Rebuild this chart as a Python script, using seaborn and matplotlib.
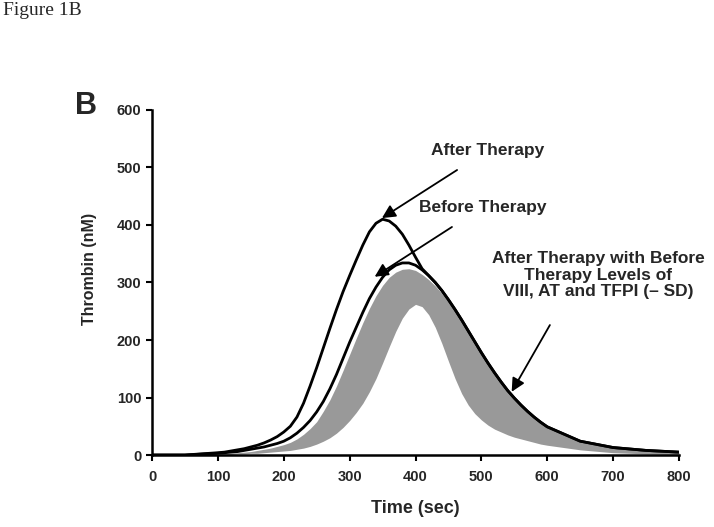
import matplotlib
matplotlib.use("Agg")
import matplotlib.pyplot as plt
import seaborn as sns
import pandas as pd

# time points (sec)
time_sec = [0, 50,
            100, 110, 120, 130, 140, 150, 160, 170, 180, 190,
            200, 210, 220, 230, 240, 250, 260, 270, 280, 290,
            300, 310, 320, 330, 340, 350, 360, 370, 380, 390,
            400, 410, 420, 430, 440, 450, 460, 470, 480, 490,
            500, 510, 520, 530, 540, 550, 560, 570, 580, 590,
            600, 650, 700, 750, 800]

# thrombin (nM)
after_therapy = [0, 0,
                 4, 5, 7, 9, 11, 14, 17, 21, 26, 32,
                 40, 50, 66, 90, 120, 152, 186, 220, 253, 284,
                 312, 339, 365, 388, 403, 410, 407, 398, 384, 365,
                 344, 324, 312, 300, 286, 270, 253, 235, 216, 197,
                 178, 160, 143, 127, 112, 99, 87, 76, 66, 57,
                 49, 24, 13, 8, 5]
before_therapy = [0, 0,
                  3, 4, 5, 6, 8, 10, 12, 14, 17, 20,
                  24, 30, 38, 48, 60, 75, 93, 115, 140, 168,
                  196, 222, 248, 272, 292, 309, 322, 330, 334, 334,
                  330, 322, 312, 300, 286, 270, 253, 235, 216, 197,
                  178, 160, 143, 127, 112, 99, 87, 76, 66, 57,
                  49, 24, 13, 8, 5]
# grey band: after therapy with before-therapy levels of VIII, AT and TFPI
band_upper = [0, 0,
              2, 3, 3, 4, 5, 6, 8, 10, 12, 15,
              18, 22, 28, 36, 46, 58, 76, 96, 120, 147,
              175, 203, 230, 255, 277, 295, 309, 318, 323, 324,
              321, 314, 305, 294, 281, 266, 250, 232, 214, 195,
              176, 158, 141, 125, 110, 97, 85, 74, 64, 55,
              47, 22, 12, 7, 4]
band_lower = [0, 0,
              0, 1, 1, 2, 2, 3, 3, 4, 5, 6,
              7, 8, 10, 12, 15, 19, 24, 30, 38, 48,
              60, 74, 90, 110, 133, 160, 188, 215, 238, 254,
              262, 258, 244, 222, 194, 163, 133, 107, 87, 72,
              61, 52, 45, 40, 35, 31, 28, 25, 22, 19,
              17, 9, 4, 2, 1]

x_ticks = [0, 100, 200, 300, 400, 500, 600, 700, 800]
y_ticks = [0, 100, 200, 300, 400, 500, 600]

df = pd.DataFrame({
    'time': time_sec,
    'after': after_therapy,
    'before': before_therapy,
    'upper': band_upper,
    'lower': band_lower,
})

sns.set_style('ticks')
plt.rcParams['font.family'] = ['Liberation Sans', 'DejaVu Sans']

fig = plt.figure(figsize=(7.14, 5.27), dpi=100)
ax = fig.add_axes([0.2129, 0.1366, 0.7381, 0.6547])

ax.fill_between(df['time'], df['lower'], df['upper'], color='#999999', lw=0, zorder=1)
sns.lineplot(x='time', y='before', data=df, color='black', lw=2.0, ax=ax, zorder=3)
sns.lineplot(x='time', y='after', data=df, color='black', lw=2.0, ax=ax, zorder=3)

ax.set_xlim(0, 800)
ax.set_ylim(0, 600)
ax.set_xticks(x_ticks)
ax.set_yticks(y_ticks)
for lbl in ax.get_xticklabels() + ax.get_yticklabels():
    lbl.set_fontweight('bold')
ax.tick_params(axis='both', direction='out', length=4.5, width=1.5,
               color='black', labelsize=10.5)
ax.tick_params(axis='x', pad=6)
ax.tick_params(axis='y', pad=3)
for side in ['left', 'bottom']:
    ax.spines[side].set_linewidth(1.8)
    ax.spines[side].set_color('black')
sns.despine(ax=ax)

ax.set_xlabel('Time (sec)', fontsize=13, fontweight='bold', labelpad=12)
ax.set_ylabel('Thrombin (nM)', fontsize=11.5, fontweight='bold')
ax.yaxis.set_label_coords(-0.104, 0.539)

arrow = dict(arrowstyle='-|>', color='black', lw=1.3, mutation_scale=20)
ax.annotate('After Therapy', xy=(349, 412), xytext=(510, 530),
            fontsize=12.5, fontweight='bold', ha='center', va='center',
            arrowprops=dict(arrow, shrinkA=12, shrinkB=0))
ax.annotate('Before Therapy', xy=(338, 310), xytext=(502, 431),
            fontsize=12.5, fontweight='bold', ha='center', va='center',
            arrowprops=dict(arrow, shrinkA=12, shrinkB=0))
ax.annotate('', xy=(546, 110), xytext=(604, 226), arrowprops=dict(arrow, shrinkA=0, shrinkB=0))
ax.text(677, 313, 'After Therapy with Before\nTherapy Levels of\nVIII, AT and TFPI (\u2013 SD)',
        fontsize=12.5, fontweight='bold', ha='center', va='center', linespacing=1.15)

fig.text(0.004, 0.996, 'Figure 1B', family='Liberation Serif', fontsize=14, va='top', ha='left')
fig.text(0.1204, 0.799, 'B', fontsize=22, fontweight='bold', ha='center', va='center')

fig.savefig('out.png', dpi=100)
